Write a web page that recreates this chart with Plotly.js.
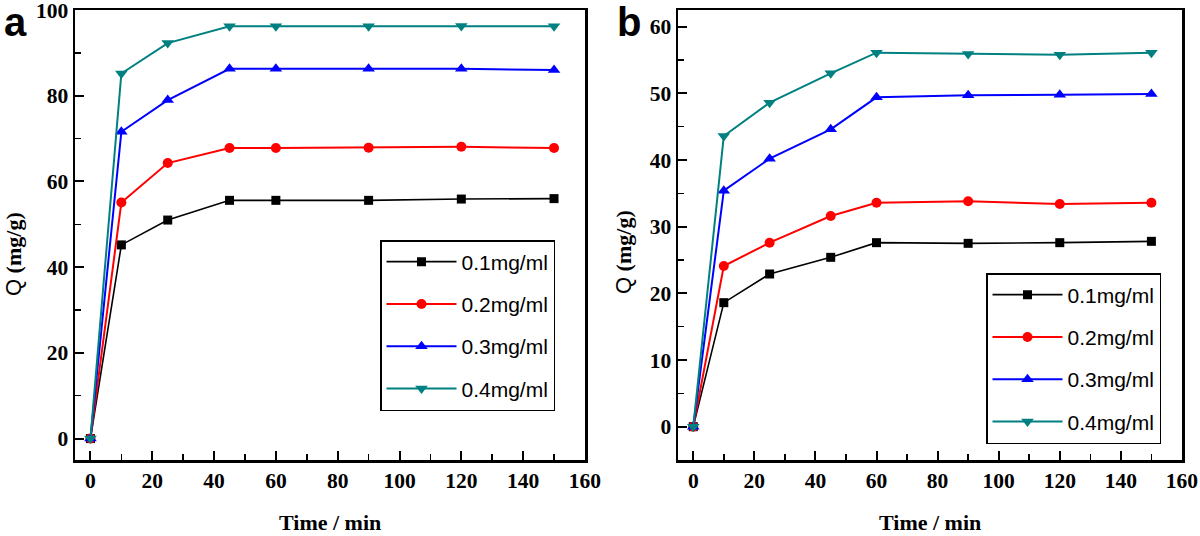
<!DOCTYPE html>
<html>
<head>
<meta charset="utf-8">
<script src="https://cdn.plot.ly/plotly-3.0.1.min.js"></script>
<style>html,body{margin:0;padding:0;background:#fff;}#chart{width:1200px;height:536px;}</style>
</head>
<body>
<div id="chart"></div>
<script>
// Time points (min)
const time = [0, 10, 25, 45, 60, 90, 120, 150];
// Series names
const seriesNames = ['0.1mg/ml', '0.2mg/ml', '0.3mg/ml', '0.4mg/ml'];
// Panel a: Q (mg/g)
const a01 = [0, 45.2, 51.0, 55.6, 55.6, 55.6, 55.9, 56.0];
const a02 = [0, 55.1, 64.3, 67.8, 67.8, 67.9, 68.1, 67.8];
const a03 = [0, 71.6, 79.0, 86.3, 86.3, 86.3, 86.3, 86.0];
const a04 = [0, 85.2, 92.3, 96.2, 96.2, 96.2, 96.3, 96.2];
// Panel b: Q (mg/g)
const b01 = [0, 18.6, 22.9, 25.4, 27.6, 27.5, 27.6, 27.8];
const b02 = [0, 24.1, 27.6, 31.6, 33.6, 33.8, 33.4, 33.6];
const b03 = [0, 35.4, 40.2, 44.6, 49.4, 49.7, 49.8, 49.9];
const b04 = [0, 43.6, 48.6, 53.0, 56.1, 55.9, 55.8, 56.1];
// Tick labels
const xTicks = [0, 20, 40, 60, 80, 100, 120, 140, 160];
const yTicksA = [0, 20, 40, 60, 80, 100];
const yTicksB = [0, 10, 20, 30, 40, 50, 60];

const colors = ['#000000', '#ff0000', '#0000ff', '#008080'];
const symbols = ['square', 'circle', 'triangle-up', 'triangle-down'];
const msizes = [9, 10, 11, 11];
const lwidths = [1.6, 2, 2, 2];

const seriesA = [a01, a02, a03, a04];
const seriesB = [b01, b02, b03, b04];

const traces = [];
function addPanel(series, xa, ya, leg, grp) {
  series.forEach((vals, i) => {
    traces.push({
      x: time, y: vals, xaxis: xa, yaxis: ya, legend: leg,
      type: 'scatter', mode: 'lines+markers', name: seriesNames[i],
      legendgroup: grp + i, cliponaxis: false,
      line: {color: colors[i], width: lwidths[i]},
      marker: {color: colors[i], symbol: symbols[i], size: msizes[i]}
    });
  });
}
addPanel(seriesA, 'x', 'y', 'legend', 'a');
addPanel(seriesB, 'x2', 'y2', 'legend2', 'b');

const tickFont = {family: 'Liberation Serif, Times New Roman, serif', size: 21.5, color: '#000', weight: 'bold'};
function xAxis(domain, anchor) {
  return {
    domain: domain, anchor: anchor, range: [-5, 160.02],
    tickvals: xTicks, ticks: 'inside', ticklen: 9, tickwidth: 2, tickcolor: '#000',
    minor: {ticks: 'inside', dtick: 10, tick0: 0, ticklen: 6, tickwidth: 1.5, tickcolor: '#000'},
    showline: true, mirror: true, linecolor: '#000', linewidth: 2.5,
    showgrid: false, zeroline: false, tickfont: tickFont, ticklabelstandoff: 0,
    ticklabeloverflow: 'allow'
  };
}
function yAxis(range, vals, minorStep, anchor) {
  return {
    domain: [1 - 460/536, 1 - 10/536], anchor: anchor, range: range,
    tickvals: vals, ticks: 'inside', ticklen: 9, tickwidth: 2, tickcolor: '#000',
    minor: {ticks: 'inside', dtick: minorStep, tick0: 0, ticklen: 6, tickwidth: 1.5, tickcolor: '#000'},
    showline: true, mirror: true, linecolor: '#000', linewidth: 2.5,
    showgrid: false, zeroline: false, tickfont: tickFont, ticklabelstandoff: 0,
    ticklabeloverflow: 'allow'
  };
}
const legFont = {family: 'Liberation Sans, Arial, sans-serif', size: 21, color: '#000'};
function legend(x, y) {
  return {
    x: x, y: y, xref: 'paper', yref: 'paper', xanchor: 'left', yanchor: 'top',
    bgcolor: '#fff', bordercolor: '#000', borderwidth: 1.5, font: legFont,
    itemwidth: 70, tracegroupgap: 12, traceorder: 'grouped', itemclick: false
  };
}
const titleFont = {family: 'Liberation Serif, Times New Roman, serif', size: 22, color: '#000', weight: 'bold'};
const qTitle = '<span style="font-family:Liberation Sans,Arial;font-weight:normal">Q</span> (mg/g)';
const layout = {
  width: 1200, height: 536,
  margin: {l: 0, r: 0, t: 0, b: 0},
  paper_bgcolor: '#fff', plot_bgcolor: '#fff',
  showlegend: true,
  xaxis: xAxis([75/1200, 585/1200], 'y'),
  yaxis: yAxis([-5, 100.02], yTicksA, 10, 'x'),
  xaxis2: xAxis([678/1200, 1182/1200], 'y2'),
  yaxis2: yAxis([-5, 62.5], yTicksB, 5, 'x2'),
  legend: legend(380/1200, 1 - 240/536),
  legend2: legend(986/1200, 1 - 273/536),
  annotations: [
    {text: 'a', xref: 'paper', yref: 'paper', x: 2/1200, y: 1 - 22/536, xanchor: 'left', yanchor: 'middle', showarrow: false,
     font: {family: 'Liberation Sans, Arial, sans-serif', size: 40, color: '#000', weight: 'bold'}},
    {text: 'b', xref: 'paper', yref: 'paper', x: 615/1200, y: 1 - 22/536, xanchor: 'left', yanchor: 'middle', showarrow: false,
     font: {family: 'Liberation Sans, Arial, sans-serif', size: 40, color: '#000', weight: 'bold'}},
    {text: 'Time / min', xref: 'paper', yref: 'paper', x: 330/1200, y: 1 - 522/536, xanchor: 'center', yanchor: 'middle', showarrow: false, font: titleFont},
    {text: 'Time / min', xref: 'paper', yref: 'paper', x: 930/1200, y: 1 - 522/536, xanchor: 'center', yanchor: 'middle', showarrow: false, font: titleFont},
    {text: qTitle, xref: 'paper', yref: 'paper', x: 13/1200, y: 1 - 254/536, xanchor: 'center', yanchor: 'middle', textangle: -90, showarrow: false, font: titleFont},
    {text: qTitle, xref: 'paper', yref: 'paper', x: 623/1200, y: 1 - 252/536, xanchor: 'center', yanchor: 'middle', textangle: -90, showarrow: false, font: titleFont}
  ]
};
Plotly.newPlot('chart', traces, layout, {displayModeBar: false, staticPlot: true});
</script>
</body>
</html>
